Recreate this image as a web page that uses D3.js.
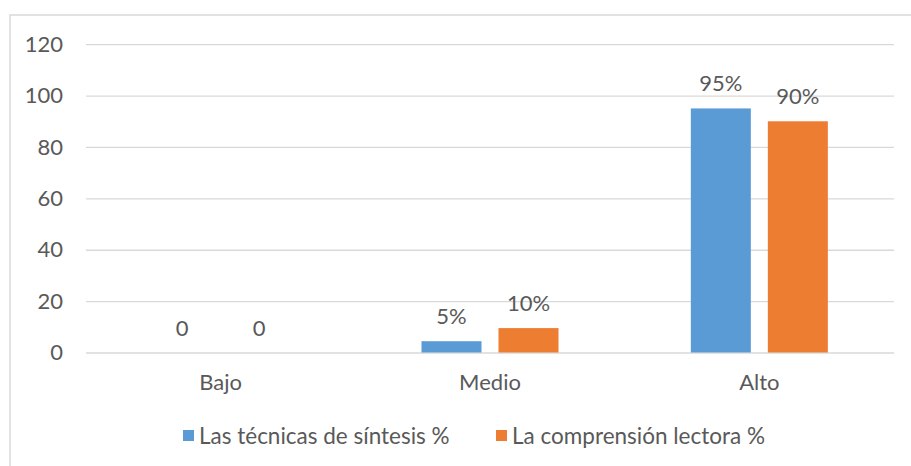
<!DOCTYPE html>
<html>
<head>
<meta charset="utf-8">
<script src="https://cdn.jsdelivr.net/npm/d3@7"></script>
<style>
  html, body { margin: 0; padding: 0; background: #fff; }
  svg { display: block; }
  text { font-family: Lato, "Open Sans", sans-serif; fill: #595959; }
</style>
</head>
<body>
<svg id="chart" width="911" height="466"></svg>
<script>
const categories = ["Bajo", "Medio", "Alto"];
const seriesNames = ["Las técnicas de síntesis %", "La comprensión lectora %"];
const tecnicas = [0, 4.4, 95];
const comprension = [0, 9.5, 90];
const tecnicasLabels = ["0", "5%", "95%"];
const comprensionLabels = ["0", "10%", "90%"];
const yTicks = [0, 20, 40, 60, 80, 100, 120];
const colors = ["#5B9BD5", "#ED7D31"];

const series = [
  { name: seriesNames[0], values: tecnicas, labels: tecnicasLabels, color: colors[0] },
  { name: seriesNames[1], values: comprension, labels: comprensionLabels, color: colors[1] }
];

const svg = d3.select("#chart");
const W = 911, H = 466;
const plot = { left: 86, right: 894, top: 44.2, bottom: 352.5 };
const FS = 22;

svg.append("rect")
  .attr("x", 10).attr("y", 15)
  .attr("width", W + 20).attr("height", H + 20)
  .attr("fill", "none").attr("stroke", "#D9D9D9").attr("stroke-width", 1.5);

const y = d3.scaleLinear().domain([0, 120]).range([plot.bottom, plot.top]);
const x0 = d3.scaleBand().domain(categories).range([plot.left, plot.right]).padding(0);
const x1 = d3.scaleBand().domain(seriesNames).range([0, x0.bandwidth()])
  .paddingInner(0.2208).paddingOuter(0.859);

const yAxis = d3.axisLeft(y).tickValues(yTicks).tickSize(-(plot.right - plot.left)).tickPadding(23);
const gy = svg.append("g").attr("transform", `translate(${plot.left},0)`).call(yAxis);
gy.select(".domain").remove();
gy.selectAll(".tick line").attr("stroke", "#D9D9D9").attr("stroke-width", 1.3);
gy.selectAll(".tick text").attr("font-size", FS).attr("fill", "#595959")
  .style("font-family", "Lato, 'Open Sans', sans-serif");

const groups = svg.append("g").selectAll("g").data(series).join("g").attr("fill", d => d.color);
groups.selectAll("rect")
  .data(s => categories.map((c, i) => ({ c, v: s.values[i], name: s.name })))
  .join("rect")
  .attr("x", d => x0(d.c) + x1(d.name))
  .attr("width", x1.bandwidth())
  .attr("y", d => y(d.v))
  .attr("height", d => y(0) - y(d.v));

svg.append("g").selectAll("g").data(series).join("g")
  .selectAll("text")
  .data(s => categories.map((c, i) => ({ c, v: s.values[i], name: s.name, label: s.labels[i] })))
  .join("text")
  .attr("x", d => x0(d.c) + x1(d.name) + x1.bandwidth() / 2)
  .attr("y", d => y(d.v) - 17)
  .attr("text-anchor", "middle")
  .attr("font-size", FS)
  .text(d => d.label);

const xAxis = d3.axisBottom(x0).tickSize(0).tickPadding(22);
const gx = svg.append("g").attr("transform", `translate(0,${plot.bottom})`).call(xAxis);
gx.select(".domain").remove();
gx.selectAll(".tick text").attr("font-size", FS).attr("fill", "#595959")
  .style("font-family", "Lato, 'Open Sans', sans-serif");

const legendX = [183, 496];
const leg = svg.append("g").selectAll("g").data(series).join("g")
  .attr("transform", (d, i) => `translate(${legendX[i]},430)`);
leg.append("rect").attr("width", 11).attr("height", 11).attr("fill", d => d.color);
leg.append("text").attr("x", 16).attr("y", 13.5).attr("font-size", 22.5).text(d => d.name);
</script>
</body>
</html>
